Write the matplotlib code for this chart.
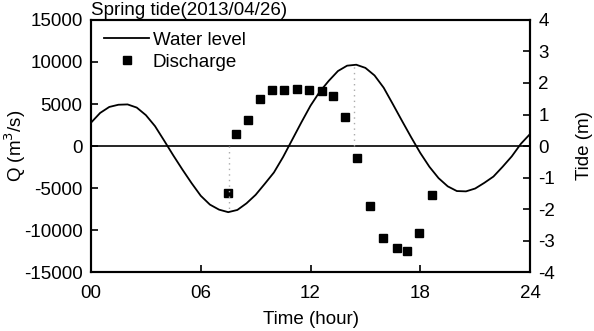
import matplotlib
matplotlib.use("Agg")
import matplotlib.pyplot as plt

plt.rcParams["font.family"] = ["Liberation Sans", "DejaVu Sans"]
plt.rcParams["font.size"] = 13.5
plt.rcParams["axes.unicode_minus"] = False

# water level (m), half-hourly
tide_hours = [0, 0.5, 1, 1.5, 2, 2.5, 3, 3.5, 4, 4.5, 5, 5.5, 6, 6.5, 7, 7.5,
              8, 8.5, 9, 9.5, 10, 10.5, 11, 11.5, 12, 12.5, 13, 13.5, 14, 14.5,
              15, 15.5, 16, 16.5, 17, 17.5, 18, 18.5, 19, 19.5, 20, 20.5, 21,
              21.5, 22, 22.5, 23, 23.5, 24]
tide_level = [0.74, 1.05, 1.24, 1.31, 1.32, 1.22, 0.98, 0.63, 0.17, -0.30,
              -0.75, -1.18, -1.58, -1.86, -2.02, -2.10, -2.03, -1.82, -1.55,
              -1.20, -0.84, -0.35, 0.20, 0.75, 1.28, 1.72, 2.07, 2.38, 2.55,
              2.58, 2.48, 2.24, 1.85, 1.33, 0.80, 0.28, -0.22, -0.66, -1.02,
              -1.28, -1.43, -1.44, -1.35, -1.17, -0.97, -0.66, -0.33, 0.07, 0.38]

# measured discharge (m3/s)
q_hours = [7.47, 7.93, 8.6, 9.25, 9.89, 10.56, 11.25, 11.91, 12.65, 13.25,
           13.89, 14.56, 15.25, 15.98, 16.73, 17.29, 17.95, 18.64]
q_values = [-5600, 1400, 3100, 5600, 6700, 6700, 6750, 6700, 6550, 5950,
            3500, -1400, -7100, -11000, -12200, -12500, -10300, -5800]

# low / high water marks
slack_hours = [7.55, 14.35]
slack_levels = [-2.10, 2.58]

fig = plt.figure(figsize=(5.94, 3.31), dpi=100)
ax = fig.add_axes([0.1532, 0.1782, 0.7391, 0.7614])
ax2 = ax.twinx()

ax.plot(q_hours, q_values, ls="none", marker="s", ms=6, color="black",
        label="Discharge")
ax.axhline(0, color="black", lw=1.2)
ax.set_xlim(0, 24)
ax.set_ylim(-15000, 15000)
ax.set_xticks([0, 6, 12, 18, 24])
ax.set_xticklabels(["00", "06", "12", "18", "24"])
ax.set_yticks(range(-15000, 15001, 5000))
ax.set_xlabel("Time (hour)", labelpad=6)
ax.set_ylabel("Q (m$^3$/s)", va="center")
ax.yaxis.set_label_coords(-0.172, 0.5)

ax2.plot(tide_hours, tide_level, color="black", lw=1.3, label="Water level")
for h, lv in zip(slack_hours, slack_levels):
    ax2.plot([h, h], [0, lv], color="#aaaaaa", ls=(0, (1, 3)), lw=1)
ax2.set_ylim(-4, 4)
ax2.set_yticks(range(-4, 5))
ax2.set_ylabel("Tide (m)", labelpad=15)

for a in (ax, ax2):
    for sp in a.spines.values():
        sp.set_linewidth(1.5)
    a.tick_params(direction="in", length=5, width=1.2, pad=6)
ax.tick_params(axis="x", pad=9.5)

h1, l1 = ax2.get_legend_handles_labels()
h2, l2 = ax.get_legend_handles_labels()
ax2.legend(h1 + h2, l1 + l2, loc="upper left", frameon=False,
           bbox_to_anchor=(0.0, 1.005), handlelength=2.4, handletextpad=0.2,
           labelspacing=0.25, borderaxespad=0.3)

ax.text(0.0, 1.005, "Spring tide(2013/04/26)", transform=ax.transAxes,
        ha="left", va="bottom")

fig.savefig("out.png", dpi=100)
